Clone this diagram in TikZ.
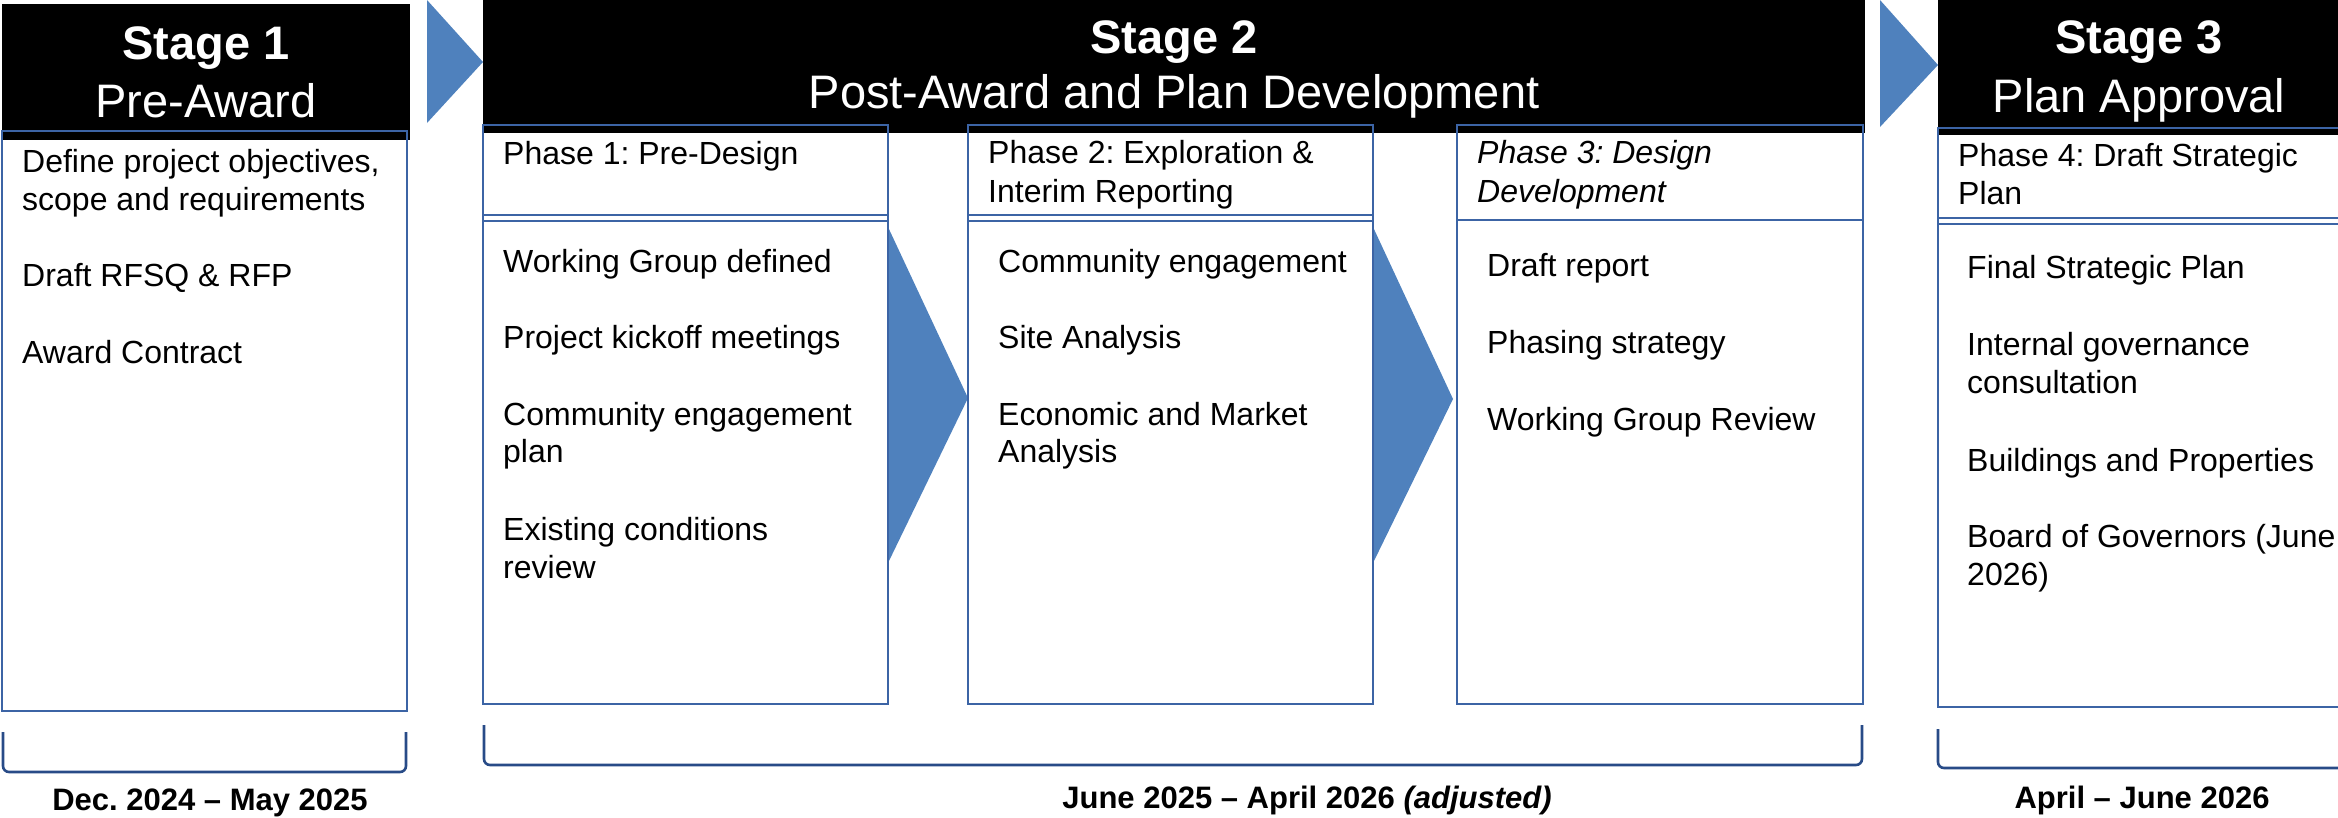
\documentclass[tikz,border=0pt]{standalone}
\usepackage{fontspec}
\setmainfont{Liberation Sans}
\frenchspacing
\definecolor{boxblue}{RGB}{60,100,165}
\definecolor{braceblue}{RGB}{40,75,135}
\definecolor{arrowblue}{RGB}{79,129,189}
\tikzset{
  body/.style={anchor=base west, inner sep=0pt, font=\fontsize{32}{38}\selectfont},
  headr/.style={anchor=base, inner sep=0pt, text=white, font=\fontsize{47}{56}\selectfont},
  headb/.style={anchor=base, inner sep=0pt, text=white, font=\fontsize{47}{56}\selectfont\bfseries},
  datelbl/.style={anchor=base, inner sep=0pt, font=\fontsize{31}{36}\selectfont\bfseries},
  boxline/.style={draw=boxblue, line width=1.4pt},
  chev/.style={fill=arrowblue, draw=none},
  bracket/.style={draw=braceblue, line width=2.6pt, rounded corners=6pt},
  hdr/.style={fill=black, draw=none}
}
\begin{document}
\begin{tikzpicture}[x=1pt,y=-1pt]
\useasboundingbox (0,0) rectangle (2338,817);
% black headers
\fill[hdr] (2,4) rectangle (410,140);
\fill[hdr] (483,0) rectangle (1865,133);
\fill[hdr] (1938,0) rectangle (2345,135);
% top arrows
\fill[chev] (427,0) -- (483,62) -- (427,123) -- cycle;
\fill[chev] (1880,0) -- (1938,65) -- (1880,127) -- cycle;
% lower arrows
\fill[chev] (888,227) -- (968,398) -- (888,563) -- cycle;
\fill[chev] (1373,227) -- (1453,399) -- (1373,563) -- cycle;
% boxes
\draw[boxline] (2,131) rectangle (407,711);
\draw[boxline] (483,125) rectangle (888,704);
\draw[boxline] (968,125) rectangle (1373,704);
\draw[boxline] (1457,125) rectangle (1863,704);
\draw[boxline] (1938,128) rectangle (2350,707);
% separators
\draw[boxline] (483,215) -- (888,215) (483,221) -- (888,221);
\draw[boxline] (968,215) -- (1373,215) (968,221) -- (1373,221);
\draw[boxline, line width=2pt] (1457,220) -- (1863,220);
\draw[boxline] (1938,218) -- (2350,218) (1938,224) -- (2350,224);
% header texts
\node[headb] (s1t) at (206,59) {Stage 1};
\node[headr] (s1s) at (206,117) {Pre-Award};
\node[headb] (s2t) at (1174,53) {Stage 2};
\node[headr] (s2s) at (1174,108) {Post-Award and Plan Development};
\node[headb] (s3t) at (2139,53) {Stage 3};
\node[headr] (s3s) at (2139,112) {Plan Approval};
% stage 1 items
\node[body] (a1) at (22,172) {Define project objectives,};
\node[body] (a1b) at (22,210) {scope and requirements};
\node[body] (a2) at (22,286) {Draft RFSQ \& RFP};
\node[body] (a3) at (22,363) {Award Contract};
% phase 1
\node[body] (p1h) at (503,164) {Phase 1: Pre-Design};
\node[body] (p1a) at (503,272) {Working Group defined};
\node[body] (p1b) at (503,348) {Project kickoff meetings};
\node[body] (p1c) at (503,425) {Community engagement};
\node[body] (p1c2) at (503,462) {plan};
\node[body] (p1d) at (503,540) {Existing conditions};
\node[body] (p1d2) at (503,578) {review};
% phase 2
\node[body] (p2h) at (988,163) {Phase 2: Exploration \&};
\node[body] (p2h2) at (988,202) {Interim Reporting};
\node[body] (p2a) at (998,272) {Community engagement};
\node[body] (p2b) at (998,348) {Site Analysis};
\node[body] (p2c) at (998,425) {Economic and Market};
\node[body] (p2c2) at (998,462) {Analysis};
% phase 3
\node[body, font=\fontsize{32}{38}\selectfont\itshape] (p3h) at (1477,163) {Phase 3: Design};
\node[body, font=\fontsize{32}{38}\selectfont\itshape] (p3h2) at (1477,202) {Development};
\node[body] (p3a) at (1487,276) {Draft report};
\node[body] (p3b) at (1487,353) {Phasing strategy};
\node[body] (p3c) at (1487,430) {Working Group Review};
% phase 4
\node[body] (p4h) at (1958,166) {Phase 4: Draft Strategic};
\node[body] (p4h2) at (1958,204) {Plan};
\node[body] (p4a) at (1967,278) {Final Strategic Plan};
\node[body] (p4b) at (1967,355) {Internal governance};
\node[body] (p4b2) at (1967,393) {consultation};
\node[body] (p4c) at (1967,471) {Buildings and Properties};
\node[body] (p4d) at (1967,547) {Board of Governors (June};
\node[body] (p4d2) at (1967,585) {2026)};
% brackets
\draw[bracket] (3,732) -- (3,772) -- (406,772) -- (406,732);
\draw[bracket] (484,725) -- (484,765) -- (1862,765) -- (1862,725);
\draw[bracket] (1938,729) -- (1938,768) -- (2360,768);
% date labels
\node[datelbl] (d1) at (210,810) {Dec. 2024 -- May 2025};
\node[datelbl] (d2) at (1307,808) {June 2025 -- April 2026 \textit{(adjusted)}};
\node[datelbl] (d3) at (2142,808) {April -- June 2026};
\end{tikzpicture}
\end{document}
